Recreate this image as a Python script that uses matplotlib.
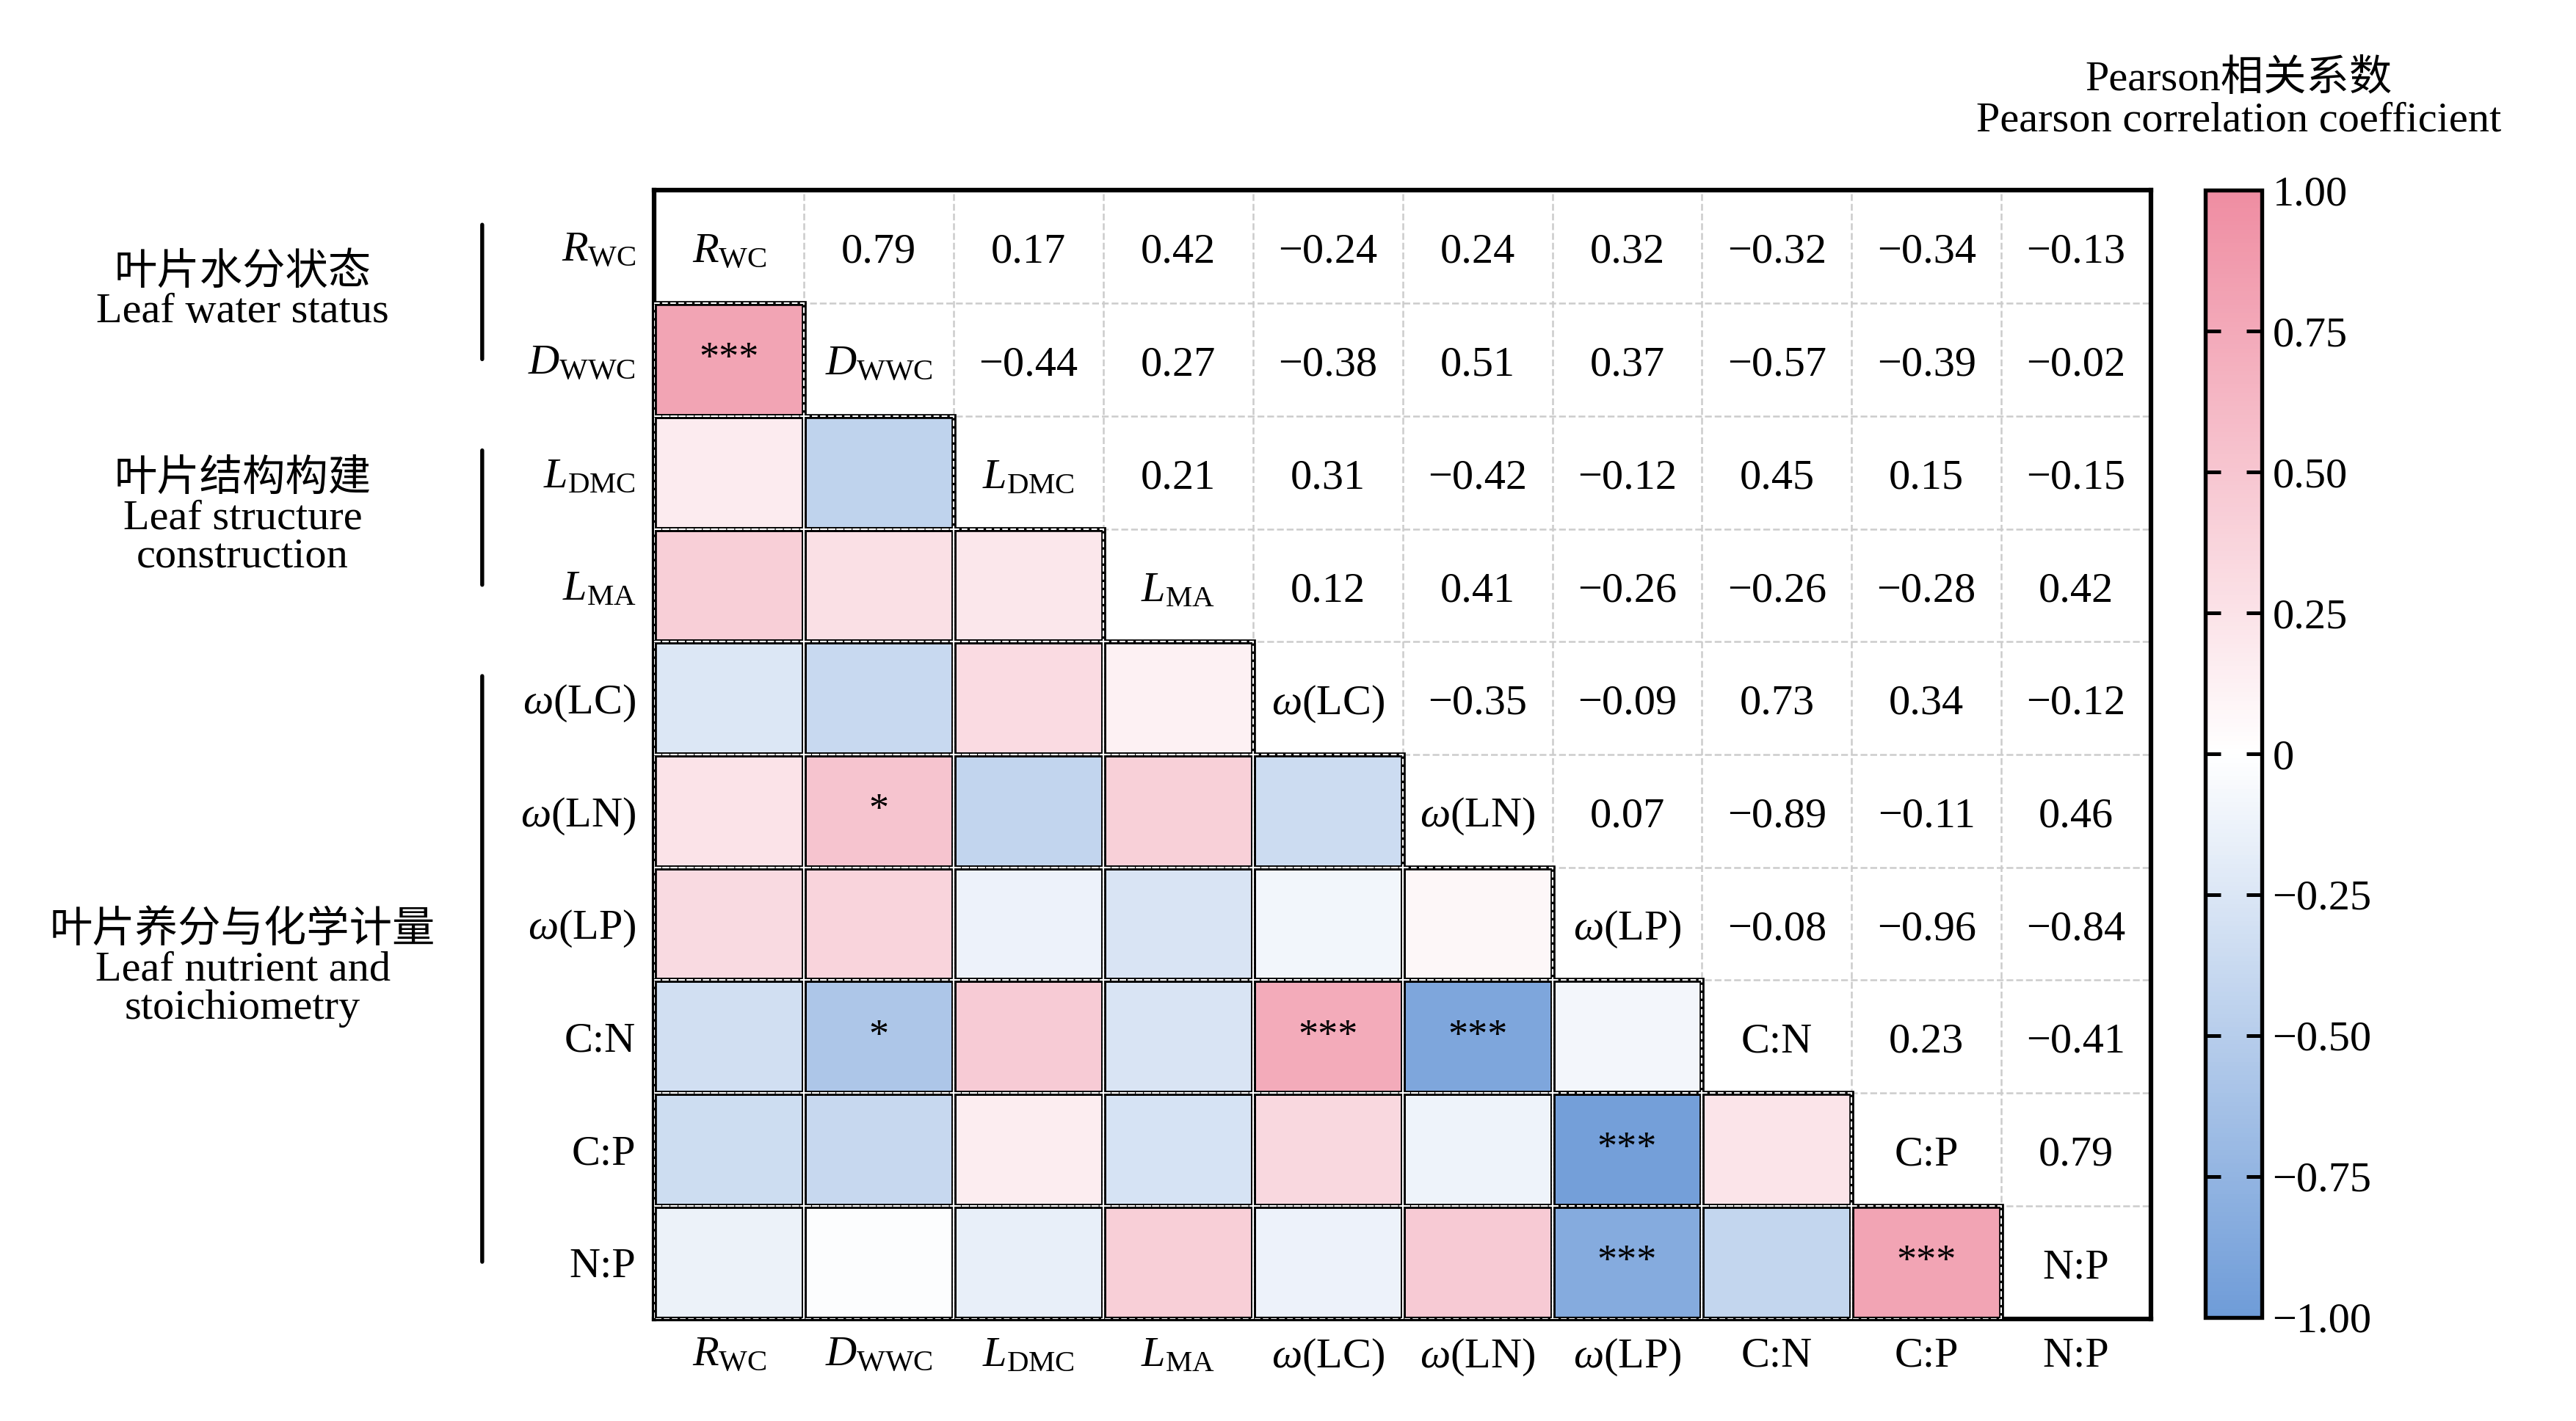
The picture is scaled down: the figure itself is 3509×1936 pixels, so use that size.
import matplotlib.pyplot as plt
import numpy as np
from matplotlib.colors import LinearSegmentedColormap
from matplotlib.patches import Rectangle

plt.rcParams['font.family'] = ['Liberation Serif', 'Noto Sans CJK SC']
plt.rcParams['mathtext.fontset'] = 'custom'
plt.rcParams['mathtext.rm'] = 'Liberation Serif'
plt.rcParams['mathtext.it'] = 'Liberation Serif:italic'
plt.rcParams['axes.unicode_minus'] = True

labels = [r'$R_{\rm WC}$', r'$D_{\rm WWC}$', r'$L_{\rm DMC}$', r'$L_{\rm MA}$',
          r'$\omega$(LC)', r'$\omega$(LN)', r'$\omega$(LP)', 'C:N', 'C:P', 'N:P']

upper = [
    [0.79, 0.17, 0.42, -0.24, 0.24, 0.32, -0.32, -0.34, -0.13],
    [-0.44, 0.27, -0.38, 0.51, 0.37, -0.57, -0.39, -0.02],
    [0.21, 0.31, -0.42, -0.12, 0.45, 0.15, -0.15],
    [0.12, 0.41, -0.26, -0.26, -0.28, 0.42],
    [-0.35, -0.09, 0.73, 0.34, -0.12],
    [0.07, -0.89, -0.11, 0.46],
    [-0.08, -0.96, -0.84],
    [0.23, -0.41],
    [0.79],
]
stars = {(1, 0): '***', (5, 1): '*', (7, 1): '*', (7, 4): '***', (7, 5): '***',
         (8, 6): '***', (9, 6): '***', (9, 8): '***'}

n = len(labels)
M = np.eye(n)
for i, row in enumerate(upper):
    for k, v in enumerate(row):
        j = i + 1 + k
        M[i, j] = v
        M[j, i] = v

cmap = LinearSegmentedColormap.from_list('pc', ['#6f9cd8', '#ffffff', '#ef8da2'])

fig = plt.figure(figsize=(3509 / 300, 1936 / 300), dpi=300)
ax = fig.add_axes([0.254, 0.072, 0.581, 0.794])
low = np.ma.masked_where(np.triu(np.ones((n, n))) == 1, M)
im = ax.imshow(low, cmap=cmap, vmin=-1, vmax=1, extent=(0, n, n, 0), aspect='auto')
ax.set_xlim(0, n)
ax.set_ylim(n, 0)

for k in range(1, n):
    ax.axvline(k, color='#cccccc', lw=0.6, ls='--', zorder=1)
    ax.axhline(k, color='#cccccc', lw=0.6, ls='--', zorder=1)

for i in range(n):
    for j in range(n):
        if i > j:
            ax.add_patch(Rectangle((j, i), 1, 1, fill=False, ec='black', lw=1.6, zorder=3))
            ax.add_patch(Rectangle((j, i), 1, 1, fill=False, ec='white', lw=0.5, ls='--', zorder=4))
            if (i, j) in stars:
                ax.text(j + 0.5, i + 0.5, stars[(i, j)], ha='center', va='center', fontsize=13, zorder=5)
        elif i == j:
            ax.text(j + 0.5, i + 0.55, labels[i], ha='center', va='center', fontsize=14, zorder=5)
        else:
            ax.text(j + 0.5, i + 0.55, f'{M[i, j]:.2f}'.replace('-', '\u2212'),
                    ha='center', va='center', fontsize=14, zorder=5)

ax.set_xticks(np.arange(n) + 0.5)
ax.set_xticklabels(labels, fontsize=14)
ax.set_yticks(np.arange(n) + 0.5)
ax.set_yticklabels(labels, fontsize=14)
ax.tick_params(length=0, pad=6)
for s in ax.spines.values():
    s.set_linewidth(1.5)

# group labels
groups = [('叶片水分状态\nLeaf water status', 0, 2),
          ('叶片结构构建\nLeaf structure\nconstruction', 2, 4),
          ('叶片养分与化学计量\nLeaf nutrient and\nstoichiometry', 4, 10)]
for txt, a, b in groups:
    ax.annotate('', xy=(-1.15, a + 0.25), xytext=(-1.15, b - 0.45),
                xycoords='data', annotation_clip=False,
                arrowprops=dict(arrowstyle='-', lw=1.3, color='black'))
    ax.text(-2.75, (a + b) / 2 - 0.1, txt, ha='center', va='center', fontsize=14,
            linespacing=1.0, clip_on=False)

cax = fig.add_axes([0.856, 0.073, 0.022, 0.793])
cb = fig.colorbar(im, cax=cax, ticks=[1, 0.75, 0.5, 0.25, 0, -0.25, -0.5, -0.75, -1])
cb.ax.set_yticklabels(['1.00', '0.75', '0.50', '0.25', '0', '\u22120.25', '\u22120.50', '\u22120.75', '\u22121.00'], fontsize=14)
cb.ax.tick_params(direction='in', length=5, width=1.2, left=True)
cb.outline.set_linewidth(1.3)
fig.text(0.869, 0.93, 'Pearson相关系数\nPearson correlation coefficient', ha='center', va='center',
         fontsize=14, linespacing=1.1)

fig.savefig('out.png', dpi=300)
